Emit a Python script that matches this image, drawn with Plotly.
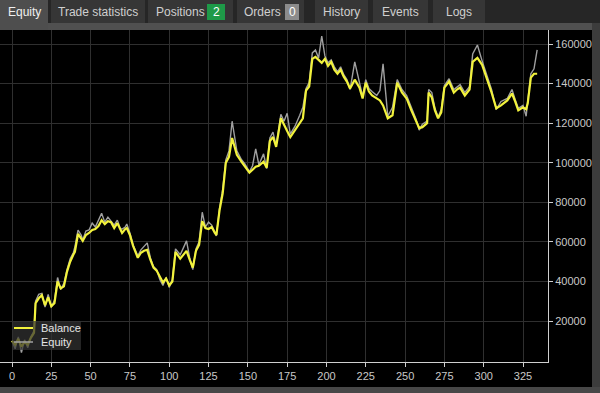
import plotly.graph_objects as go

# ---------------- data ----------------
balance_trade = [0, 2, 4, 6, 8, 10, 12, 14, 15, 17, 19, 21, 23, 25, 27, 29, 31, 33, 35, 37, 39, 40, 42, 44, 45, 47, 49, 51, 53, 55, 57, 59, 61, 63, 65, 67, 69, 70, 72, 73, 75, 77, 80, 82, 84, 86, 88, 90, 92, 94, 96, 98, 100, 102, 104, 107, 109, 111, 113, 115, 117, 119, 121, 123, 125, 127, 129, 130, 132, 134, 136, 138, 140, 143, 146, 148, 151, 153, 155, 157, 160, 162, 164, 166, 168, 171, 173, 175, 177, 180, 183, 185, 187, 189, 191, 193, 195, 197, 199, 201, 203, 205, 207, 209, 211, 213, 215, 218, 221, 223, 225, 227, 229, 232, 234, 236, 239, 242, 245, 248, 251, 254, 257, 259, 261, 264, 265, 267, 269, 271, 273, 275, 278, 281, 283, 285, 288, 291, 293, 296, 299, 302, 305, 308, 311, 315, 318, 320, 322, 325, 327, 328, 330, 332, 334]
balance_value = [10000, 8000, 11000, 7000, 9500, 8000, 11500, 14000, 29000, 31500, 33000, 28000, 32000, 27500, 29000, 40000, 36500, 37500, 45000, 50000, 53500, 55000, 64000, 62000, 60500, 63500, 64500, 66000, 66500, 68000, 71000, 69000, 70500, 70000, 67000, 69500, 66000, 64500, 66500, 67000, 63500, 58000, 52000, 54500, 55500, 56000, 51000, 47000, 45500, 42500, 39500, 41500, 38000, 40000, 55000, 51500, 53500, 55500, 51000, 47000, 55500, 58500, 70500, 67000, 66500, 67500, 64500, 63500, 76000, 84500, 100000, 103000, 112500, 104000, 100500, 98500, 95000, 96500, 98000, 98500, 100500, 97500, 111000, 113000, 108000, 122500, 119000, 116000, 113000, 116500, 120000, 122500, 136500, 138500, 152500, 153500, 152000, 150500, 152500, 149000, 151000, 147000, 145000, 147000, 143500, 141000, 137500, 142000, 138000, 132500, 140500, 136000, 134000, 132500, 131500, 129000, 122500, 124000, 140500, 135500, 132500, 126500, 121500, 117500, 118000, 120000, 135500, 133000, 126500, 122500, 125500, 138000, 141000, 135500, 137000, 138000, 134000, 137000, 151000, 153000, 149500, 143000, 135500, 127500, 129000, 131500, 135000, 131000, 126500, 128000, 127000, 130000, 143000, 145000, 145000]

equity_trade = balance_trade
equity_value = [10000, 6000, 12000, 4000, 10500, 6500, 12000, 15000, 30000, 33500, 34000, 27000, 33500, 27000, 30500, 42000, 36000, 39000, 46000, 51500, 54500, 57500, 66000, 63500, 61000, 65500, 66000, 69500, 67500, 71500, 74500, 70000, 72500, 70500, 68500, 71000, 66500, 66500, 67500, 69000, 64500, 58500, 53000, 56000, 57500, 59500, 52000, 47500, 46000, 41000, 38000, 42000, 37000, 41000, 56500, 53500, 57000, 60500, 52000, 46000, 56500, 60000, 75000, 67500, 70000, 68500, 65000, 63000, 77000, 86500, 101500, 106000, 121000, 106000, 101500, 99500, 95500, 98500, 107000, 99000, 104500, 97000, 112500, 115500, 108500, 124500, 121000, 125000, 114500, 118500, 124000, 128000, 137500, 140500, 155500, 157000, 153000, 164000, 154000, 150500, 152000, 148500, 146000, 148500, 144500, 142000, 137000, 151000, 140500, 133500, 142000, 137500, 136000, 134000, 136500, 150000, 123500, 128000, 142000, 137000, 134000, 127500, 122000, 116500, 119500, 121000, 137000, 135500, 127500, 123000, 127000, 139000, 142500, 137000, 138500, 139500, 135500, 138500, 155000, 159500, 151500, 144500, 137000, 127000, 131000, 132500, 137000, 132000, 127500, 129000, 123500, 131000, 145000, 147500, 157000]

x_ticks = [0, 25, 50, 75, 100, 125, 150, 175, 200, 225, 250, 275, 300, 325]
y_ticks = [20000, 40000, 60000, 80000, 100000, 120000, 140000, 160000]
y_tick_labels = [str(v) for v in y_ticks]

series_names = ["Balance", "Equity"]
series_colors = ["#f2f23c", "#a0a0a0"]

tab_labels = ["Equity", "Trade statistics", "Positions", "Orders", "History", "Events", "Logs"]
badge_labels = {"Positions": "2", "Orders": "0"}

# ---------------- layout helpers (pixels -> paper) ----------------
W, H = 600, 393
ML, MR, MT, MB = 0, 52, 30, 31
PW = W - ML - MR
PH = H - MT - MB


def fx(x):
    return (x - ML) / PW


def fy(y):
    return (H - MB - y) / PH


FONT = "Liberation Sans, Arial, sans-serif"

fig = go.Figure()
fig.add_trace(go.Scatter(x=equity_trade, y=equity_value, mode="lines", name=series_names[1],
                         line=dict(color=series_colors[1], width=1.4), showlegend=False))
fig.add_trace(go.Scatter(x=balance_trade, y=balance_value, mode="lines", name=series_names[0],
                         line=dict(color=series_colors[0], width=2.2), showlegend=False))

shapes = []
annotations = []


def rect(x0, y0, x1, y1, color):
    shapes.append(dict(type="rect", xref="paper", yref="paper", x0=fx(x0), x1=fx(x1),
                       y0=fy(y1), y1=fy(y0), fillcolor=color, line=dict(width=0), layer="above"))


def hline(x0, x1, y, color, width):
    shapes.append(dict(type="line", xref="paper", yref="paper", x0=fx(x0), x1=fx(x1),
                       y0=fy(y), y1=fy(y), line=dict(color=color, width=width), layer="above"))


def text(x, y, s, color="#d4d4d4", size=12, xanchor="center"):
    annotations.append(dict(xref="paper", yref="paper", x=fx(x), y=fy(y), text=s, showarrow=False,
                            xanchor=xanchor, yanchor="middle", font=dict(family=FONT, size=size, color=color)))


# tab bar
rect(0, 0, 600, 23, "#262626")
rect(0, 23, 600, 30, "#505050")
rect(592, 23, 600, 393, "#3c3c3c")
rect(0, 387, 600, 393, "#474747")

tab_spans = [(0, 48), (51, 145), (148, 233), (237, 304), (315, 368), (373, 428), (433, 485)]
text_x = [24, 98, 180, 262, 341, 400, 459]
for lab, (a, b), tx in zip(tab_labels, tab_spans, text_x):
    active = lab == "Equity"
    rect(a, 0, b, 30 if active else 23, "#4e4e4e" if active else "#363636")
    text(tx, 12, lab, color="#f0f0f0" if active else "#cfcfcf")

# badges
rect(207, 4, 225, 20, "#1e9a48")
text(216, 12, badge_labels["Positions"], color="#ffffff")
rect(285, 4, 299, 20, "#8c8c8c")
text(292, 12, badge_labels["Orders"], color="#ffffff")

# legend box
rect(12, 321, 81, 350, "rgba(50,50,50,0.72)")
for i, (nm, col) in enumerate(zip(series_names, series_colors)):
    yy = 328 + i * 14
    hline(14, 33, yy, col, 2 if i == 0 else 1.5)
    text(39, yy, nm, color="#e6e6e6", size=11, xanchor="left")

fig.update_layout(
    width=W, height=H,
    margin=dict(l=ML, r=MR, t=MT, b=MB, pad=0),
    paper_bgcolor="#000000",
    plot_bgcolor="#000000",
    shapes=shapes,
    annotations=annotations,
    showlegend=False,
    xaxis=dict(range=[-7.63, 340.9], tickvals=x_ticks, showgrid=True, gridcolor="#2f2f2f",
               gridwidth=1, zeroline=False, showline=True, linecolor="#cfcfcf", linewidth=1,
               ticks="outside", ticklen=4, tickcolor="#cfcfcf",
               tickfont=dict(family=FONT, size=11, color="#c8c8c8")),
    yaxis=dict(range=[-700, 167100], side="right", tickvals=y_ticks, ticktext=y_tick_labels,
               showgrid=True, gridcolor="#2f2f2f", gridwidth=1, zeroline=False, showline=True,
               linecolor="#cfcfcf", linewidth=1, ticks="outside", ticklen=4, tickcolor="#cfcfcf",
               tickfont=dict(family=FONT, size=11, color="#c8c8c8")),
)

fig.write_html("out.html")
